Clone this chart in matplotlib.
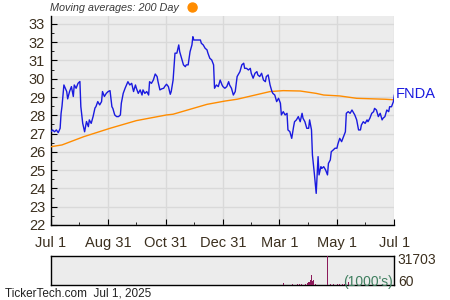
import matplotlib
matplotlib.use("Agg")
import matplotlib.pyplot as plt
import matplotlib.patches as mpatches
import numpy as np
import datetime as dt

plt.rcParams['font.family'] = ['Liberation Sans', 'DejaVu Sans']

start = dt.date(2024, 7, 1)

price_days = [0, 2, 4, 6, 8, 10, 11, 12, 14, 17, 18, 20, 22, 24, 25, 27, 29, 31, 32, 34,
              36, 38, 40, 41, 43, 45, 47, 48, 50, 52, 54, 55, 57, 59, 61, 63, 65, 66, 68, 70,
              72, 74, 75, 77, 79, 82, 84, 86, 88, 90, 91, 93, 95, 97, 98, 100, 102, 104, 105, 107,
              109, 111, 113, 114, 116, 118, 120, 121, 123, 125, 127, 128, 130, 132, 134, 136, 137, 139, 141, 143,
              144, 146, 148, 150, 151, 152, 155, 159, 160, 162, 164, 166, 167, 169, 171, 173, 174, 176, 178, 180,
              182, 183, 185, 187, 189, 190, 192, 194, 196, 198, 199, 201, 203, 205, 206, 208, 210, 212, 213, 215,
              217, 219, 220, 222, 224, 226, 228, 229, 231, 233, 235, 236, 238, 240, 242, 244, 245, 247, 249, 251,
              252, 254, 256, 258, 259, 261, 263, 265, 267, 268, 270, 272, 274, 275, 277, 278, 280, 282, 284, 285,
              287, 288, 290, 292, 294, 295, 297, 298, 300, 302, 304, 305, 307, 309, 311, 313, 314, 316, 318, 320,
              321, 323, 325, 327, 329, 330, 332, 334, 336, 337, 339, 341, 343, 344, 346, 348, 350, 352, 353, 355,
              357, 359, 360, 362, 364, 365]
price_vals = [27.1, 27.2, 27.1, 27.2, 27.05, 27.29, 28.1, 28.5, 29.66, 29.3, 28.9, 29.3, 29.57, 29.03, 29.66, 29.48, 29.75, 29.85, 28.47, 27.56,
              27.1, 27.66, 27.38, 27.75, 27.56, 27.93, 28.4, 28.47, 28.75, 28.57, 28.75, 29.3, 29.03, 29.2, 29.3, 29.35, 28.47, 28.38, 28.02, 27.93,
              27.93, 28.02, 28.66, 29.2, 29.48, 29.84, 29.66, 29.75, 29.3, 29.66, 29.48, 29.2, 29.39, 29.11, 29.39, 29.2, 29.3, 29.11, 29.84, 29.75,
              29.93, 30.26, 30.12, 29.84, 29.39, 29.45, 29.48, 29.57, 29.7, 29.57, 29.15, 29.3, 29.93, 31.4, 31.4, 31.85, 31.48, 31.12, 30.76, 30.66,
              30.76, 30.76, 31.48, 31.85, 32.3, 32.12, 32.12, 32.12, 31.94, 31.85, 31.67, 31.58, 31.4, 31.12, 31.03, 30.76, 29.48, 29.66, 29.57, 29.93,
              29.66, 29.57, 29.48, 29.57, 29.84, 29.66, 29.48, 29.11, 29.3, 30.12, 30.21, 30.39, 30.76, 30.85, 30.57, 30.57, 30.48, 30.57, 30.3, 30.03,
              30.3, 30.39, 30.21, 30.12, 30.3, 29.93, 29.84, 30.12, 30.21, 29.66, 29.3, 29.2, 29.11, 28.75, 28.93, 28.66, 28.02, 28.2, 28.02, 28.11,
              27.2, 27.11, 26.74, 27.38, 27.65, 27.75, 27.93, 27.65, 28.11, 27.84, 27.65, 27.29, 27.29, 27.75, 27.2, 25.83, 24.83, 23.73, 25.74, 24.74,
              25.19, 25.1, 25.19, 25.01, 24.74, 25.37, 25.56, 26.01, 26.1, 26.2, 26.2, 26.42, 26.74, 26.56, 26.83, 27.1, 28.11, 28.2, 28.11, 28.29,
              28.2, 28.02, 27.75, 27.2, 27.2, 27.47, 27.65, 27.56, 27.75, 27.65, 27.84, 28.11, 28.2, 28.38, 28.29, 27.93, 28.11, 27.75, 27.84, 27.93,
              28.29, 28.2, 28.47, 28.47, 28.75, 29.1]

ma_days = [0, 12, 35, 63, 91, 123, 130, 166, 185, 198, 233, 247, 265, 282, 290, 307, 325, 355, 365]
ma_vals = [26.28, 26.38, 26.83, 27.29, 27.71, 28.02, 28.06, 28.6, 28.78, 28.88, 29.3, 29.35, 29.33, 29.2, 29.11, 29.06, 28.93, 28.88, 28.85]

vol_days = [225, 233, 247, 250, 257, 262, 264, 266, 269, 271, 273, 274, 275, 276, 277, 278, 279, 281,
            294, 297, 300, 302, 305, 307, 310, 312, 316]
vol_vals = [400, 500, 1800, 1200, 1000, 900, 900, 900, 1200, 1500, 2000, 3500, 3000, 6000, 11300, 4500, 5500, 1200,
            31703, 900, 700, 800, 700, 600, 800, 1500, 2800]

xtick_dates = [dt.date(2024, 7, 1), dt.date(2024, 8, 31), dt.date(2024, 10, 31), dt.date(2024, 12, 31),
               dt.date(2025, 3, 1), dt.date(2025, 5, 1), dt.date(2025, 7, 1)]
xtick_labels = ['Jul 1', 'Aug 31', 'Oct 31', 'Dec 31', 'Mar 1', 'May 1', 'Jul 1']
ticker = 'FNDA'

def to_dates(days):
    return [start + dt.timedelta(days=d) for d in days]

bg = '#ececec'
grid_c = '#d9d9d9'
lab_c = '#3b2f1e'

fig = plt.figure(figsize=(4.5, 3.0), dpi=100)
ax = fig.add_axes([0.1127, 0.25, 0.7636, 0.6977])
ax.set_facecolor(bg)
ax.plot(to_dates(ma_days), ma_vals, color='#ff8c00', lw=1.0, zorder=3)
ax.plot(to_dates(price_days), price_vals, color='#1a1adf', lw=1.0, zorder=4)
ax.set_xlim(xtick_dates[0], xtick_dates[-1])
ax.set_ylim(22, 33.45)
ax.set_yticks(np.arange(22, 34, 1))
ax.set_yticks(np.arange(22.5, 33.5, 1), minor=True)
ax.set_xticks(xtick_dates)
ax.set_xticklabels(xtick_labels)
minor_x = [xtick_dates[i] + (xtick_dates[i + 1] - xtick_dates[i]) / 2 for i in range(len(xtick_dates) - 1)]
ax.set_xticks(minor_x, minor=True)
ax.grid(True, which='major', color=grid_c, lw=1.0, zorder=0)
ax.set_axisbelow(True)
for s in ['top', 'right']:
    ax.spines[s].set_visible(False)
for s in ['left', 'bottom']:
    ax.spines[s].set_color('black')
    ax.spines[s].set_linewidth(1.0)
ax.tick_params(axis='both', which='major', direction='in', length=4, color='black',
               labelcolor=lab_c, labelsize=10.5)
ax.tick_params(axis='both', which='minor', direction='in', length=2.5, color='black')
ax.tick_params(axis='x', which='major', pad=8)
ax.tick_params(axis='y', which='major', pad=4)
ax.text(1.005, (price_vals[-1] - 22) / 11.45 + 0.005, ticker, transform=ax.transAxes,
        color='#1a1adf', fontsize=10.5, va='center', ha='left')

fig.text(0.111, 0.972, 'Moving averages: 200 Day', fontsize=7.8, style='italic',
         color='#3a3a3a', ha='left', va='center')
fig.patches.append(mpatches.Ellipse((0.428, 0.975), 0.02, 0.03, transform=fig.transFigure,
                                    color='#ff8c00', figure=fig))

vax = fig.add_axes([0.1127, 0.05, 0.7636, 0.0967])
vax.set_facecolor(bg)
vax.bar(to_dates(vol_days), vol_vals, width=0.8, color='#8b1a5a', zorder=3)
vax.set_xlim(xtick_dates[0], xtick_dates[-1])
vax.set_ylim(0, 31703)
vax.set_xticks([])
vax.set_yticks([])
for s in vax.spines.values():
    s.set_color('black')
    s.set_linewidth(1.0)
vax.text(1.01, 0.85, '31703', transform=vax.transAxes, fontsize=10, color=lab_c, va='center', ha='left')
vax.text(1.01, 0.12, '60', transform=vax.transAxes, fontsize=10, color=lab_c, va='center', ha='left')
vax.text(0.995, 0.12, "(1000's)", transform=vax.transAxes, fontsize=10, color='#3f7f5f', va='center', ha='right')

fig.text(0.012, 0.02, 'TickerTech.com  Jul 1, 2025', fontsize=8.5, color='#222222', ha='left', va='center')

fig.savefig('out.png', dpi=100)
